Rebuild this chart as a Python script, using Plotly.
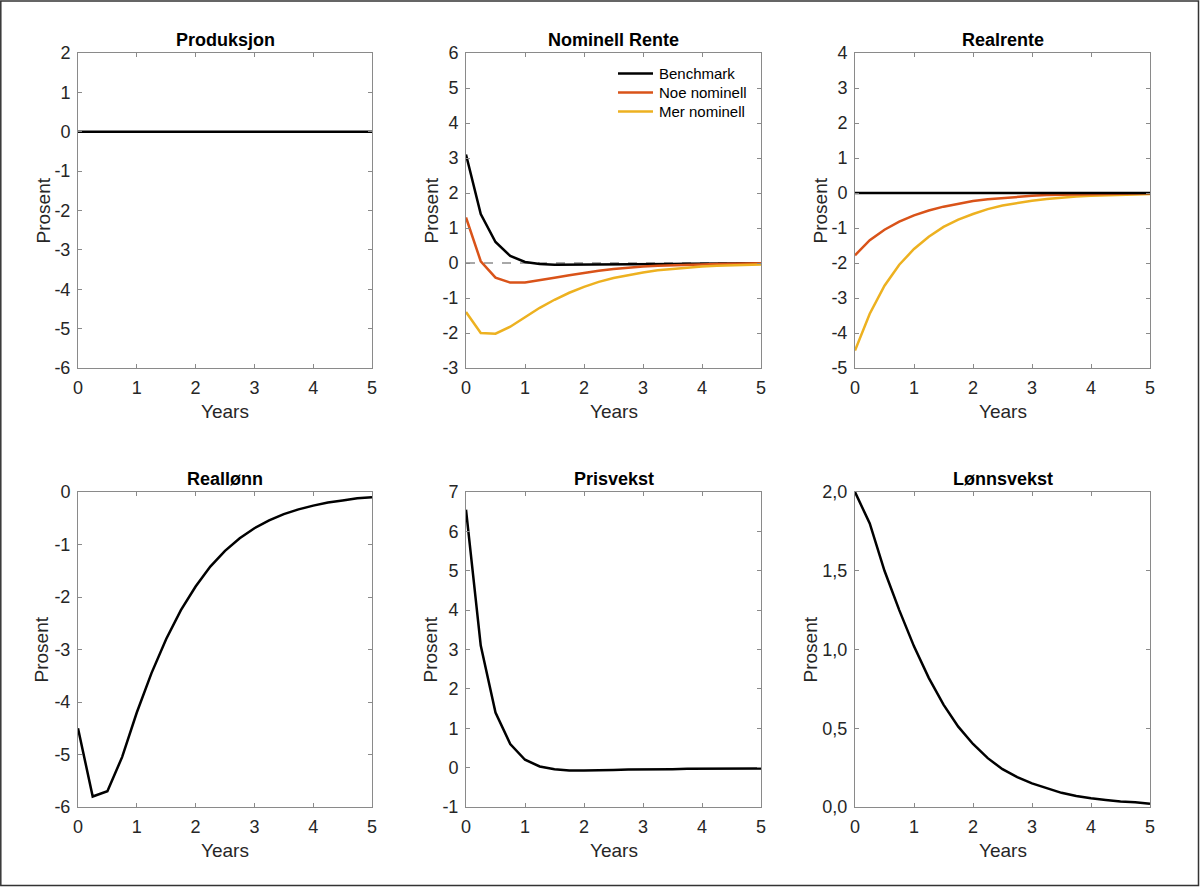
import plotly.graph_objects as go

years = [i * 0.25 for i in range(21)]

produksjon = [0.0] * 21

nom_benchmark = [3.1, 1.4, 0.6, 0.2, 0.03, -0.03, -0.05, -0.05, -0.05, -0.05, -0.04,
                 -0.04, -0.03, -0.03, -0.03, -0.02, -0.02, -0.02, -0.01, -0.01, -0.01]
nom_noe = [1.3, 0.05, -0.42, -0.56, -0.56, -0.5, -0.42, -0.35, -0.28, -0.22, -0.17,
           -0.13, -0.1, -0.08, -0.06, -0.05, -0.04, -0.03, -0.02, -0.02, -0.01]
nom_mer = [-1.4, -2.0, -2.02, -1.82, -1.55, -1.28, -1.05, -0.85, -0.68, -0.54, -0.43,
           -0.34, -0.27, -0.21, -0.17, -0.13, -0.1, -0.08, -0.06, -0.05, -0.04]

real_benchmark = [0.0] * 21
real_noe = [-1.78, -1.35, -1.05, -0.82, -0.64, -0.5, -0.39, -0.3, -0.23, -0.18, -0.14,
            -0.11, -0.08, -0.06, -0.05, -0.04, -0.03, -0.02, -0.02, -0.01, -0.01]
real_mer = [-4.5, -3.45, -2.65, -2.05, -1.6, -1.25, -0.97, -0.76, -0.6, -0.46, -0.36,
            -0.28, -0.22, -0.17, -0.13, -0.1, -0.08, -0.06, -0.05, -0.04, -0.03]

reallonn = [-4.5, -5.8, -5.7, -5.05, -4.2, -3.45, -2.8, -2.25, -1.8, -1.42, -1.12,
            -0.88, -0.69, -0.54, -0.42, -0.33, -0.26, -0.2, -0.16, -0.12, -0.1]
prisvekst = [6.55, 3.1, 1.4, 0.6, 0.2, 0.03, -0.04, -0.07, -0.07, -0.07, -0.06,
             -0.05, -0.05, -0.04, -0.04, -0.03, -0.03, -0.03, -0.02, -0.02, -0.02]
lonnsvekst = [2.0, 1.8, 1.5, 1.25, 1.02, 0.82, 0.65, 0.51, 0.4, 0.31, 0.24,
              0.19, 0.15, 0.12, 0.09, 0.07, 0.055, 0.045, 0.035, 0.03, 0.02]

titles = ["Produksjon", "Nominell Rente", "Realrente", "Reallønn", "Prisvekst", "Lønnsvekst"]
x_ticks = [0, 1, 2, 3, 4, 5]
y_ticks = [
    [-6, -5, -4, -3, -2, -1, 0, 1, 2],
    [-3, -2, -1, 0, 1, 2, 3, 4, 5, 6],
    [-5, -4, -3, -2, -1, 0, 1, 2, 3, 4],
    [-6, -5, -4, -3, -2, -1, 0],
    [-1, 0, 1, 2, 3, 4, 5, 6, 7],
    [0.0, 0.5, 1.0, 1.5, 2.0],
]
lonnsvekst_labels = ["0,0", "0,5", "1,0", "1,5", "2,0"]
series_names = ["Benchmark", "Noe nominell", "Mer nominell"]

BLACK = "#000000"
ORANGE = "#D95319"
YELLOW = "#EDB120"
AXIS = "#8a8a8a"
TXT = "#262626"
FONT = "Liberation Sans, Arial, sans-serif"

W, H = 1200, 887
xdom_px = [(78, 372), (466, 761), (855, 1150)]
ydom_px = [(53, 368), (492, 807)]
ylabel_shift = [-35, -35, -35, -37, -36, -45]

fig = go.Figure()
layout = {}
annotations = []
shapes = []

for idx in range(6):
    r, c = divmod(idx, 3)
    n = idx + 1
    xa = "xaxis" if n == 1 else f"xaxis{n}"
    ya = "yaxis" if n == 1 else f"yaxis{n}"
    xr = "x" if n == 1 else f"x{n}"
    yr = "y" if n == 1 else f"y{n}"
    x0, x1 = xdom_px[c]
    y0, y1 = ydom_px[r]
    yt = y_ticks[idx]
    ylabels = lonnsvekst_labels if idx == 5 else [str(v) for v in yt]
    layout[xa] = dict(
        domain=[x0 / W, x1 / W], anchor=yr, range=[0, 5],
        tickmode="array", tickvals=x_ticks, ticktext=[str(v) for v in x_ticks],
        showline=True, linecolor=AXIS, linewidth=1, mirror="allticks",
        ticks="inside", ticklen=4, tickcolor=AXIS, showgrid=False, zeroline=False,
        automargin=False, ticklabelstandoff=3,
        tickfont=dict(family=FONT, size=18, color=TXT),
    )
    layout[ya] = dict(
        domain=[1 - y1 / H, 1 - y0 / H], anchor=xr, range=[yt[0], yt[-1]],
        tickmode="array", tickvals=yt, ticktext=ylabels,
        showline=True, linecolor=AXIS, linewidth=1, mirror="allticks",
        ticks="inside", ticklen=4, tickcolor=AXIS, showgrid=False, zeroline=False,
        automargin=False, ticklabelstandoff=3,
        tickfont=dict(family=FONT, size=18, color=TXT),
    )

    xd = "x domain" if n == 1 else f"x{n} domain"
    yd = "y domain" if n == 1 else f"y{n} domain"
    annotations.append(dict(text=f"<b>{titles[idx]}</b>", xref=xd, yref=yd, x=0.5, y=1,
                            xanchor="center", yanchor="bottom", yshift=1, showarrow=False,
                            font=dict(family=FONT, size=18, color=BLACK)))
    annotations.append(dict(text="Years", xref=xd, yref=yd, x=0.5, y=0,
                            xanchor="center", yanchor="middle", yshift=-43, showarrow=False,
                            font=dict(family=FONT, size=19, color=TXT)))
    annotations.append(dict(text="Prosent", xref=xd, yref=yd, x=0, y=0.5, textangle=-90,
                            xanchor="center", yanchor="middle", xshift=ylabel_shift[idx],
                            showarrow=False, font=dict(family=FONT, size=19, color=TXT)))

# dashed zero lines in interest panels
for n in (2, 3):
    shapes.append(dict(type="line", xref=f"x{n} domain", yref=f"y{n}", x0=0, x1=1, y0=0, y1=0,
                       line=dict(color="#8c8c8c", width=1.5, dash="dash"), layer="below"))

# legend (drawn in the Nominell Rente panel)
legend_colors = [BLACK, ORANGE, YELLOW]
legend_rows_px = [73.5, 92.5, 111.5]
for name, col, ypx in zip(series_names, legend_colors, legend_rows_px):
    yp = 1 - ypx / H
    shapes.append(dict(type="line", xref="paper", yref="paper", x0=618 / W, x1=653 / W,
                       y0=yp, y1=yp, line=dict(color=col, width=2.5)))
    annotations.append(dict(text=name, xref="paper", yref="paper", x=657 / W, y=yp,
                            xanchor="left", yanchor="middle", showarrow=False,
                            font=dict(family=FONT, size=15, color=BLACK)))

# outer frame
shapes.append(dict(type="rect", xref="paper", yref="paper", x0=0.8 / W, x1=1 - 1.5 / W,
                   y0=1.6 / H, y1=1 - 1.0 / H, line=dict(color="#333333", width=1.5)))

lw = 2.5
fig.add_trace(go.Scatter(x=years, y=produksjon, mode="lines", line=dict(color=BLACK, width=lw),
                         xaxis="x", yaxis="y", showlegend=False))

for vals, col, name in zip([nom_benchmark, nom_noe, nom_mer], legend_colors, series_names):
    fig.add_trace(go.Scatter(x=years, y=vals, mode="lines", name=name,
                             line=dict(color=col, width=lw), xaxis="x2", yaxis="y2",
                             showlegend=False))
for vals, col, name in zip([real_mer, real_noe, real_benchmark], [YELLOW, ORANGE, BLACK],
                           series_names[::-1]):
    fig.add_trace(go.Scatter(x=years, y=vals, mode="lines", name=name,
                             line=dict(color=col, width=lw), xaxis="x3", yaxis="y3",
                             showlegend=False))

fig.add_trace(go.Scatter(x=years, y=reallonn, mode="lines", name="Reallønn",
                         line=dict(color=BLACK, width=lw),
                         xaxis="x4", yaxis="y4", showlegend=False))
fig.add_trace(go.Scatter(x=years, y=prisvekst, mode="lines", name="Prisvekst",
                         line=dict(color=BLACK, width=lw),
                         xaxis="x5", yaxis="y5", showlegend=False))
fig.add_trace(go.Scatter(x=years, y=lonnsvekst, mode="lines", name="Lønnsvekst",
                         line=dict(color=BLACK, width=lw),
                         xaxis="x6", yaxis="y6", showlegend=False))

fig.update_layout(
    width=W, height=H,
    autosize=False,
    margin=dict(l=0, r=0, t=0, b=0, pad=0, autoexpand=False),
    paper_bgcolor="white", plot_bgcolor="white",
    font=dict(family=FONT, color=TXT),
    showlegend=False,
    annotations=annotations,
    shapes=shapes,
    **layout,
)

fig.write_html("out.html", config={"displayModeBar": False},
               post_script="document.body.style.margin='0';document.body.style.overflow='hidden';")
